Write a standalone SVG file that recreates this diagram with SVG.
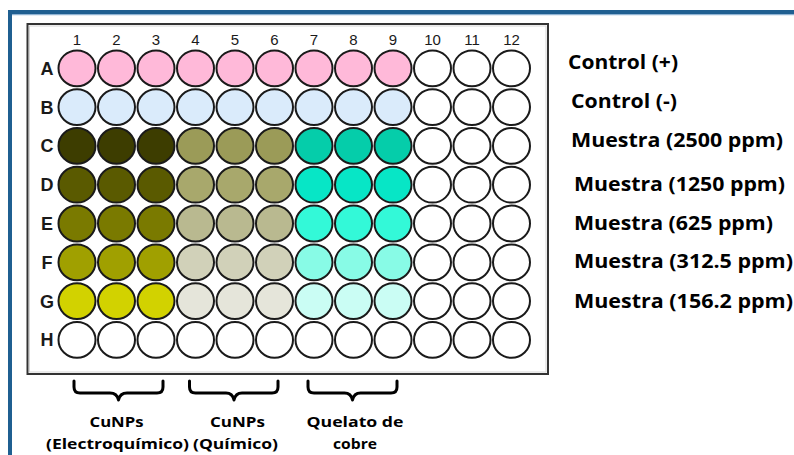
<svg xmlns="http://www.w3.org/2000/svg" width="794" height="455" viewBox="0 0 794 455">
<style>
.w{stroke:#1a1a1a;stroke-width:2}
.e{fill:#ffffff}
.pk{fill:#ffb9d9}
.lb{fill:#daebfb}
.c1{fill:#3d3d00}.c2{fill:#9b9b58}.c3{fill:#05cdaa}
.d1{fill:#5a5a00}.d2{fill:#a8a86c}.d3{fill:#07e6c6}
.e1{fill:#7a7a00}.e2{fill:#b9b990}.e3{fill:#33f9d8}
.f1{fill:#a0a000}.f2{fill:#d1d1b9}.f3{fill:#88fbe6}
.g1{fill:#d2d200}.g2{fill:#e5e5da}.g3{fill:#cafdf4}
.num{font-family:"Liberation Sans",Arial,sans-serif;font-size:15px;fill:#1a1a1a;text-anchor:middle}
.row{font-family:"Liberation Sans",Arial,sans-serif;font-size:18px;font-weight:bold;fill:#1a1a1a;text-anchor:middle}
.lab{font-family:"Open Sans","Liberation Sans",sans-serif;font-size:19.5px;font-weight:bold;fill:#000}
.bot{font-family:"Open Sans","Liberation Sans",sans-serif;font-size:15px;font-weight:bold;fill:#000;text-anchor:middle}
.brace{fill:none;stroke:#000;stroke-width:3;stroke-linejoin:round;stroke-linecap:round}
</style>
<rect width="794" height="455" fill="#ffffff"/>
<g id="frame">
<path d="M10,455 V12 H794" fill="none" stroke="#1f5f91" stroke-width="4"/>
<line x1="12" y1="14.6" x2="794" y2="14.6" stroke="#8fb3d3" stroke-width="1.2"/>
</g>
<g id="plate">
<rect x="27.5" y="24" width="520.5" height="350" fill="#ffffff" stroke="#333" stroke-width="2"/>
<rect x="29.5" y="26" width="516.5" height="346" fill="none" stroke="#d5d5d5" stroke-width="1"/>
</g>
<g id="col-labels">
<text class="num" x="77" y="44.5">1</text>
<text class="num" x="116.5" y="44.5">2</text>
<text class="num" x="156" y="44.5">3</text>
<text class="num" x="195.5" y="44.5">4</text>
<text class="num" x="235" y="44.5">5</text>
<text class="num" x="274.5" y="44.5">6</text>
<text class="num" x="314" y="44.5">7</text>
<text class="num" x="353.5" y="44.5">8</text>
<text class="num" x="393" y="44.5">9</text>
<text class="num" x="432.5" y="44.5">10</text>
<text class="num" x="472" y="44.5">11</text>
<text class="num" x="511.5" y="44.5">12</text>
</g>
<g id="row-labels">
<text class="row" x="47" y="74.8">A</text>
<text class="row" x="47" y="113.6">B</text>
<text class="row" x="47" y="152.4">C</text>
<text class="row" x="47" y="191.2">D</text>
<text class="row" x="47" y="230">E</text>
<text class="row" x="47" y="268.8">F</text>
<text class="row" x="47" y="307.6">G</text>
<text class="row" x="47" y="346.4">H</text>
</g>
<g id="row-A">
<ellipse class="w pk" cx="77" cy="68.3" rx="18.5" ry="17.9"/><ellipse class="w pk" cx="116.5" cy="68.3" rx="18.5" ry="17.9"/><ellipse class="w pk" cx="156" cy="68.3" rx="18.5" ry="17.9"/><ellipse class="w pk" cx="195.5" cy="68.3" rx="18.5" ry="17.9"/><ellipse class="w pk" cx="235" cy="68.3" rx="18.5" ry="17.9"/><ellipse class="w pk" cx="274.5" cy="68.3" rx="18.5" ry="17.9"/><ellipse class="w pk" cx="314" cy="68.3" rx="18.5" ry="17.9"/><ellipse class="w pk" cx="353.5" cy="68.3" rx="18.5" ry="17.9"/><ellipse class="w pk" cx="393" cy="68.3" rx="18.5" ry="17.9"/><ellipse class="w e" cx="432.5" cy="68.3" rx="18.5" ry="17.9"/><ellipse class="w e" cx="472" cy="68.3" rx="18.5" ry="17.9"/><ellipse class="w e" cx="511.5" cy="68.3" rx="18.5" ry="17.9"/>
</g>
<g id="row-B">
<ellipse class="w lb" cx="77" cy="107.1" rx="18.5" ry="17.9"/><ellipse class="w lb" cx="116.5" cy="107.1" rx="18.5" ry="17.9"/><ellipse class="w lb" cx="156" cy="107.1" rx="18.5" ry="17.9"/><ellipse class="w lb" cx="195.5" cy="107.1" rx="18.5" ry="17.9"/><ellipse class="w lb" cx="235" cy="107.1" rx="18.5" ry="17.9"/><ellipse class="w lb" cx="274.5" cy="107.1" rx="18.5" ry="17.9"/><ellipse class="w lb" cx="314" cy="107.1" rx="18.5" ry="17.9"/><ellipse class="w lb" cx="353.5" cy="107.1" rx="18.5" ry="17.9"/><ellipse class="w lb" cx="393" cy="107.1" rx="18.5" ry="17.9"/><ellipse class="w e" cx="432.5" cy="107.1" rx="18.5" ry="17.9"/><ellipse class="w e" cx="472" cy="107.1" rx="18.5" ry="17.9"/><ellipse class="w e" cx="511.5" cy="107.1" rx="18.5" ry="17.9"/>
</g>
<g id="row-C">
<ellipse class="w c1" cx="77" cy="145.9" rx="18.5" ry="17.9"/><ellipse class="w c1" cx="116.5" cy="145.9" rx="18.5" ry="17.9"/><ellipse class="w c1" cx="156" cy="145.9" rx="18.5" ry="17.9"/><ellipse class="w c2" cx="195.5" cy="145.9" rx="18.5" ry="17.9"/><ellipse class="w c2" cx="235" cy="145.9" rx="18.5" ry="17.9"/><ellipse class="w c2" cx="274.5" cy="145.9" rx="18.5" ry="17.9"/><ellipse class="w c3" cx="314" cy="145.9" rx="18.5" ry="17.9"/><ellipse class="w c3" cx="353.5" cy="145.9" rx="18.5" ry="17.9"/><ellipse class="w c3" cx="393" cy="145.9" rx="18.5" ry="17.9"/><ellipse class="w e" cx="432.5" cy="145.9" rx="18.5" ry="17.9"/><ellipse class="w e" cx="472" cy="145.9" rx="18.5" ry="17.9"/><ellipse class="w e" cx="511.5" cy="145.9" rx="18.5" ry="17.9"/>
</g>
<g id="row-D">
<ellipse class="w d1" cx="77" cy="184.7" rx="18.5" ry="17.9"/><ellipse class="w d1" cx="116.5" cy="184.7" rx="18.5" ry="17.9"/><ellipse class="w d1" cx="156" cy="184.7" rx="18.5" ry="17.9"/><ellipse class="w d2" cx="195.5" cy="184.7" rx="18.5" ry="17.9"/><ellipse class="w d2" cx="235" cy="184.7" rx="18.5" ry="17.9"/><ellipse class="w d2" cx="274.5" cy="184.7" rx="18.5" ry="17.9"/><ellipse class="w d3" cx="314" cy="184.7" rx="18.5" ry="17.9"/><ellipse class="w d3" cx="353.5" cy="184.7" rx="18.5" ry="17.9"/><ellipse class="w d3" cx="393" cy="184.7" rx="18.5" ry="17.9"/><ellipse class="w e" cx="432.5" cy="184.7" rx="18.5" ry="17.9"/><ellipse class="w e" cx="472" cy="184.7" rx="18.5" ry="17.9"/><ellipse class="w e" cx="511.5" cy="184.7" rx="18.5" ry="17.9"/>
</g>
<g id="row-E">
<ellipse class="w e1" cx="77" cy="223.5" rx="18.5" ry="17.9"/><ellipse class="w e1" cx="116.5" cy="223.5" rx="18.5" ry="17.9"/><ellipse class="w e1" cx="156" cy="223.5" rx="18.5" ry="17.9"/><ellipse class="w e2" cx="195.5" cy="223.5" rx="18.5" ry="17.9"/><ellipse class="w e2" cx="235" cy="223.5" rx="18.5" ry="17.9"/><ellipse class="w e2" cx="274.5" cy="223.5" rx="18.5" ry="17.9"/><ellipse class="w e3" cx="314" cy="223.5" rx="18.5" ry="17.9"/><ellipse class="w e3" cx="353.5" cy="223.5" rx="18.5" ry="17.9"/><ellipse class="w e3" cx="393" cy="223.5" rx="18.5" ry="17.9"/><ellipse class="w e" cx="432.5" cy="223.5" rx="18.5" ry="17.9"/><ellipse class="w e" cx="472" cy="223.5" rx="18.5" ry="17.9"/><ellipse class="w e" cx="511.5" cy="223.5" rx="18.5" ry="17.9"/>
</g>
<g id="row-F">
<ellipse class="w f1" cx="77" cy="262.3" rx="18.5" ry="17.9"/><ellipse class="w f1" cx="116.5" cy="262.3" rx="18.5" ry="17.9"/><ellipse class="w f1" cx="156" cy="262.3" rx="18.5" ry="17.9"/><ellipse class="w f2" cx="195.5" cy="262.3" rx="18.5" ry="17.9"/><ellipse class="w f2" cx="235" cy="262.3" rx="18.5" ry="17.9"/><ellipse class="w f2" cx="274.5" cy="262.3" rx="18.5" ry="17.9"/><ellipse class="w f3" cx="314" cy="262.3" rx="18.5" ry="17.9"/><ellipse class="w f3" cx="353.5" cy="262.3" rx="18.5" ry="17.9"/><ellipse class="w f3" cx="393" cy="262.3" rx="18.5" ry="17.9"/><ellipse class="w e" cx="432.5" cy="262.3" rx="18.5" ry="17.9"/><ellipse class="w e" cx="472" cy="262.3" rx="18.5" ry="17.9"/><ellipse class="w e" cx="511.5" cy="262.3" rx="18.5" ry="17.9"/>
</g>
<g id="row-G">
<ellipse class="w g1" cx="77" cy="301.1" rx="18.5" ry="17.9"/><ellipse class="w g1" cx="116.5" cy="301.1" rx="18.5" ry="17.9"/><ellipse class="w g1" cx="156" cy="301.1" rx="18.5" ry="17.9"/><ellipse class="w g2" cx="195.5" cy="301.1" rx="18.5" ry="17.9"/><ellipse class="w g2" cx="235" cy="301.1" rx="18.5" ry="17.9"/><ellipse class="w g2" cx="274.5" cy="301.1" rx="18.5" ry="17.9"/><ellipse class="w g3" cx="314" cy="301.1" rx="18.5" ry="17.9"/><ellipse class="w g3" cx="353.5" cy="301.1" rx="18.5" ry="17.9"/><ellipse class="w g3" cx="393" cy="301.1" rx="18.5" ry="17.9"/><ellipse class="w e" cx="432.5" cy="301.1" rx="18.5" ry="17.9"/><ellipse class="w e" cx="472" cy="301.1" rx="18.5" ry="17.9"/><ellipse class="w e" cx="511.5" cy="301.1" rx="18.5" ry="17.9"/>
</g>
<g id="row-H">
<ellipse class="w e" cx="77" cy="339.9" rx="18.5" ry="17.9"/><ellipse class="w e" cx="116.5" cy="339.9" rx="18.5" ry="17.9"/><ellipse class="w e" cx="156" cy="339.9" rx="18.5" ry="17.9"/><ellipse class="w e" cx="195.5" cy="339.9" rx="18.5" ry="17.9"/><ellipse class="w e" cx="235" cy="339.9" rx="18.5" ry="17.9"/><ellipse class="w e" cx="274.5" cy="339.9" rx="18.5" ry="17.9"/><ellipse class="w e" cx="314" cy="339.9" rx="18.5" ry="17.9"/><ellipse class="w e" cx="353.5" cy="339.9" rx="18.5" ry="17.9"/><ellipse class="w e" cx="393" cy="339.9" rx="18.5" ry="17.9"/><ellipse class="w e" cx="432.5" cy="339.9" rx="18.5" ry="17.9"/><ellipse class="w e" cx="472" cy="339.9" rx="18.5" ry="17.9"/><ellipse class="w e" cx="511.5" cy="339.9" rx="18.5" ry="17.9"/>
</g>
<g id="legend">
<text class="lab" x="568" y="69" textLength="110" lengthAdjust="spacingAndGlyphs">Control (+)</text>
<text class="lab" x="571" y="108" textLength="106" lengthAdjust="spacingAndGlyphs">Control (-)</text>
<text class="lab" x="571" y="147" textLength="212" lengthAdjust="spacingAndGlyphs">Muestra (2500 ppm)</text>
<text class="lab" x="574" y="191" textLength="211" lengthAdjust="spacingAndGlyphs">Muestra (1250 ppm)</text>
<text class="lab" x="574" y="230" textLength="199" lengthAdjust="spacingAndGlyphs">Muestra (625 ppm)</text>
<text class="lab" x="574" y="268" textLength="219" lengthAdjust="spacingAndGlyphs">Muestra (312.5 ppm)</text>
<text class="lab" x="574" y="308" textLength="219" lengthAdjust="spacingAndGlyphs">Muestra (156.2 ppm)</text>
</g>
<g id="connectors">
<path class="brace" d="M74,381 V387 Q74,393 80,393 H110 Q117,393 118.5,400 Q120,393 127,393 H157 Q163,393 163,387 V381"/>
<path class="brace" d="M189.5,381 V387 Q189.5,393 195.5,393 H226 Q232.5,393 234,400 Q235.5,393 242,393 H272 Q278,393 278,387 V381"/>
<path class="brace" d="M308,381 V387 Q308,393 314,393 H344.5 Q351,393 352.5,400 Q354,393 360.5,393 H391 Q397,393 397,387 V381"/>
</g>
<g id="group-labels">
<text class="bot" x="116.5" y="427" textLength="54" lengthAdjust="spacingAndGlyphs">CuNPs</text>
<text class="bot" x="117.5" y="448.5" textLength="143" lengthAdjust="spacingAndGlyphs">(Electroquímico)</text>
<text class="bot" x="237.5" y="427" textLength="55" lengthAdjust="spacingAndGlyphs">CuNPs</text>
<text class="bot" x="235.5" y="448.5" textLength="85" lengthAdjust="spacingAndGlyphs">(Químico)</text>
<text class="bot" x="355" y="427" textLength="97" lengthAdjust="spacingAndGlyphs">Quelato de</text>
<text class="bot" x="355" y="448.5" textLength="44" lengthAdjust="spacingAndGlyphs">cobre</text>
</g>
</svg>
